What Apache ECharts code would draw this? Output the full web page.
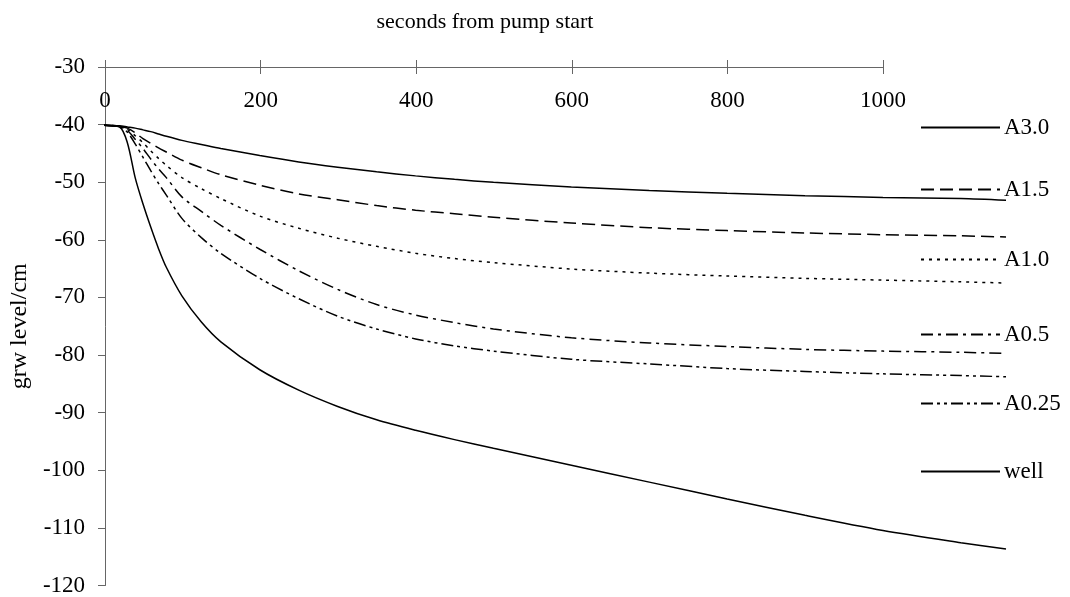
<!DOCTYPE html>
<html>
<head>
<meta charset="utf-8">
<script src="https://cdn.jsdelivr.net/npm/echarts@6/dist/echarts.min.js"></script>
<style>html,body{margin:0;padding:0;background:#fff;}#c{width:1070px;height:597px;}</style>
</head>
<body>
<div id="c"></div>
<script>
// seconds from pump start (sample times)
const times = [0,20,30,40,50,60,70,80,100,125,150,200,250,300,350,400,450,500,600,700,800,900,1000,1100,1158];
const seriesNames = ['A3.0','A1.5','A1.0','A0.5','A0.25','well'];
const A30  = [-40,-40.1,-40.3,-40.5,-40.8,-41.1,-41.5,-41.9,-42.6,-43.3,-44,-45.2,-46.3,-47.2,-48,-48.7,-49.3,-49.8,-50.6,-51.2,-51.7,-52.1,-52.4,-52.6,-52.9];
const A15  = [-40,-40.2,-40.5,-41.3,-42.3,-43.1,-43.9,-44.6,-46,-47.3,-48.5,-50.3,-51.8,-52.8,-53.8,-54.6,-55.2,-55.8,-56.8,-57.6,-58.1,-58.5,-58.8,-59,-59.2];
const A10  = [-40,-40.2,-40.7,-41.8,-43,-44.4,-45.7,-46.9,-49,-50.9,-52.6,-55.6,-57.7,-59.4,-60.8,-62,-62.9,-63.6,-64.7,-65.4,-65.9,-66.3,-66.6,-66.9,-67.1];
const A05  = [-40,-40.2,-40.9,-42.4,-44,-45.8,-47.5,-49,-52.3,-54.8,-57.2,-61.3,-65,-68.2,-70.8,-72.6,-73.9,-75,-76.5,-77.4,-78,-78.5,-78.8,-79,-79.2];
const A025 = [-40,-40.3,-41.2,-43.2,-45.5,-47.8,-50,-52,-56,-59.3,-62,-66.3,-69.8,-72.8,-75,-76.7,-77.9,-78.8,-80.2,-81,-81.8,-82.3,-82.7,-83,-83.2];
const well = [-40,-40.3,-43,-49,-53.5,-57.5,-61.2,-64.4,-69.3,-73.8,-77.2,-82,-85.5,-88.3,-90.6,-92.4,-94,-95.5,-98.4,-101.3,-104.2,-107,-109.6,-111.7,-112.8];
const xTicks = [0,200,400,600,800,1000];
const yTicks = [-30,-40,-50,-60,-70,-80,-90,-100,-110,-120];

const values = [A30, A15, A10, A05, A025, well];
const dashes = ['solid', [13,6], [3,5], [12,5,3,5], [12,4,3,4,3,4], 'solid'];
const legendTops = [116, 178, 248, 323, 392, 460];
const FONT = 'Liberation Serif';
const AX = '#666';

const chart = echarts.init(document.getElementById('c'), null, {renderer:'canvas'});
const series = seriesNames.map((n, i) => ({
  name: n, type: 'line', xAxisIndex: 1, yAxisIndex: 1,
  showSymbol: false, symbol: 'none', smooth: 0.3,
  data: times.map((t, j) => [t, values[i][j]]),
  lineStyle: {color: '#000', width: 1.5, type: dashes[i]},
  itemStyle: {color: '#000'}
}));
const legends = seriesNames.map((n, i) => ({
  data: [n], left: 920, top: legendTops[i], orient: 'vertical',
  itemWidth: 79, itemHeight: 14, padding: 0,
  itemStyle: {opacity: 0},
  textStyle: {fontFamily: FONT, fontSize: 23, color: '#000', padding: [0,0,0,-1]}
}));
const labelFmt = v => String(v);
chart.setOption({
  animation: false,
  backgroundColor: '#fff',
  title: {text: 'seconds from pump start', left: 480, top: 6, textAlign: 'center',
    textStyle: {fontFamily: FONT, fontSize: 22, fontWeight: 'normal', color: '#000'}},
  legend: legends,
  grid: [
    {left: 104, top: 67, width: 779, height: 524},
    {left: 104, top: 67, width: 902, height: 524}
  ],
  xAxis: [
    {gridIndex: 0, type: 'value', position: 'top', min: 0, max: 1000, interval: 200,
      axisLine: {show: true, lineStyle: {color: AX, width: 1}},
      axisTick: {show: true, inside: false, length: 7, lineStyle: {color: AX}},
      axisLabel: {inside: true, margin: 22, fontFamily: FONT, fontSize: 23, color: '#000', formatter: labelFmt},
      splitLine: {show: false}},
    {gridIndex: 1, type: 'value', min: 0, max: 1158, show: false},
    {gridIndex: 0, type: 'value', position: 'top', min: 0, max: 1000, interval: 200,
      axisLine: {show: false},
      axisTick: {show: true, inside: true, length: 7, lineStyle: {color: AX}},
      axisLabel: {show: false}, splitLine: {show: false}}
  ],
  yAxis: [
    {gridIndex: 0, type: 'value', min: -120, max: -30, interval: 10,
      name: 'grw level/cm', nameLocation: 'middle', nameGap: 70, nameRotate: 90,
      nameTextStyle: {fontFamily: FONT, fontSize: 24, color: '#000'},
      axisLine: {show: true, lineStyle: {color: AX, width: 1}},
      axisTick: {show: true, length: 7, lineStyle: {color: AX}},
      axisLabel: {margin: 20, fontFamily: FONT, fontSize: 23, color: '#000', formatter: labelFmt},
      splitLine: {show: false}},
    {gridIndex: 1, type: 'value', min: -120, max: -30, show: false},
    {gridIndex: 0, type: 'value', min: -120, max: -30, interval: 10,
      axisLine: {show: false},
      axisTick: {show: true, inside: true, length: 7, lineStyle: {color: AX}},
      axisLabel: {show: false}, splitLine: {show: false}}
  ],
  series: series
});
</script>
</body>
</html>
